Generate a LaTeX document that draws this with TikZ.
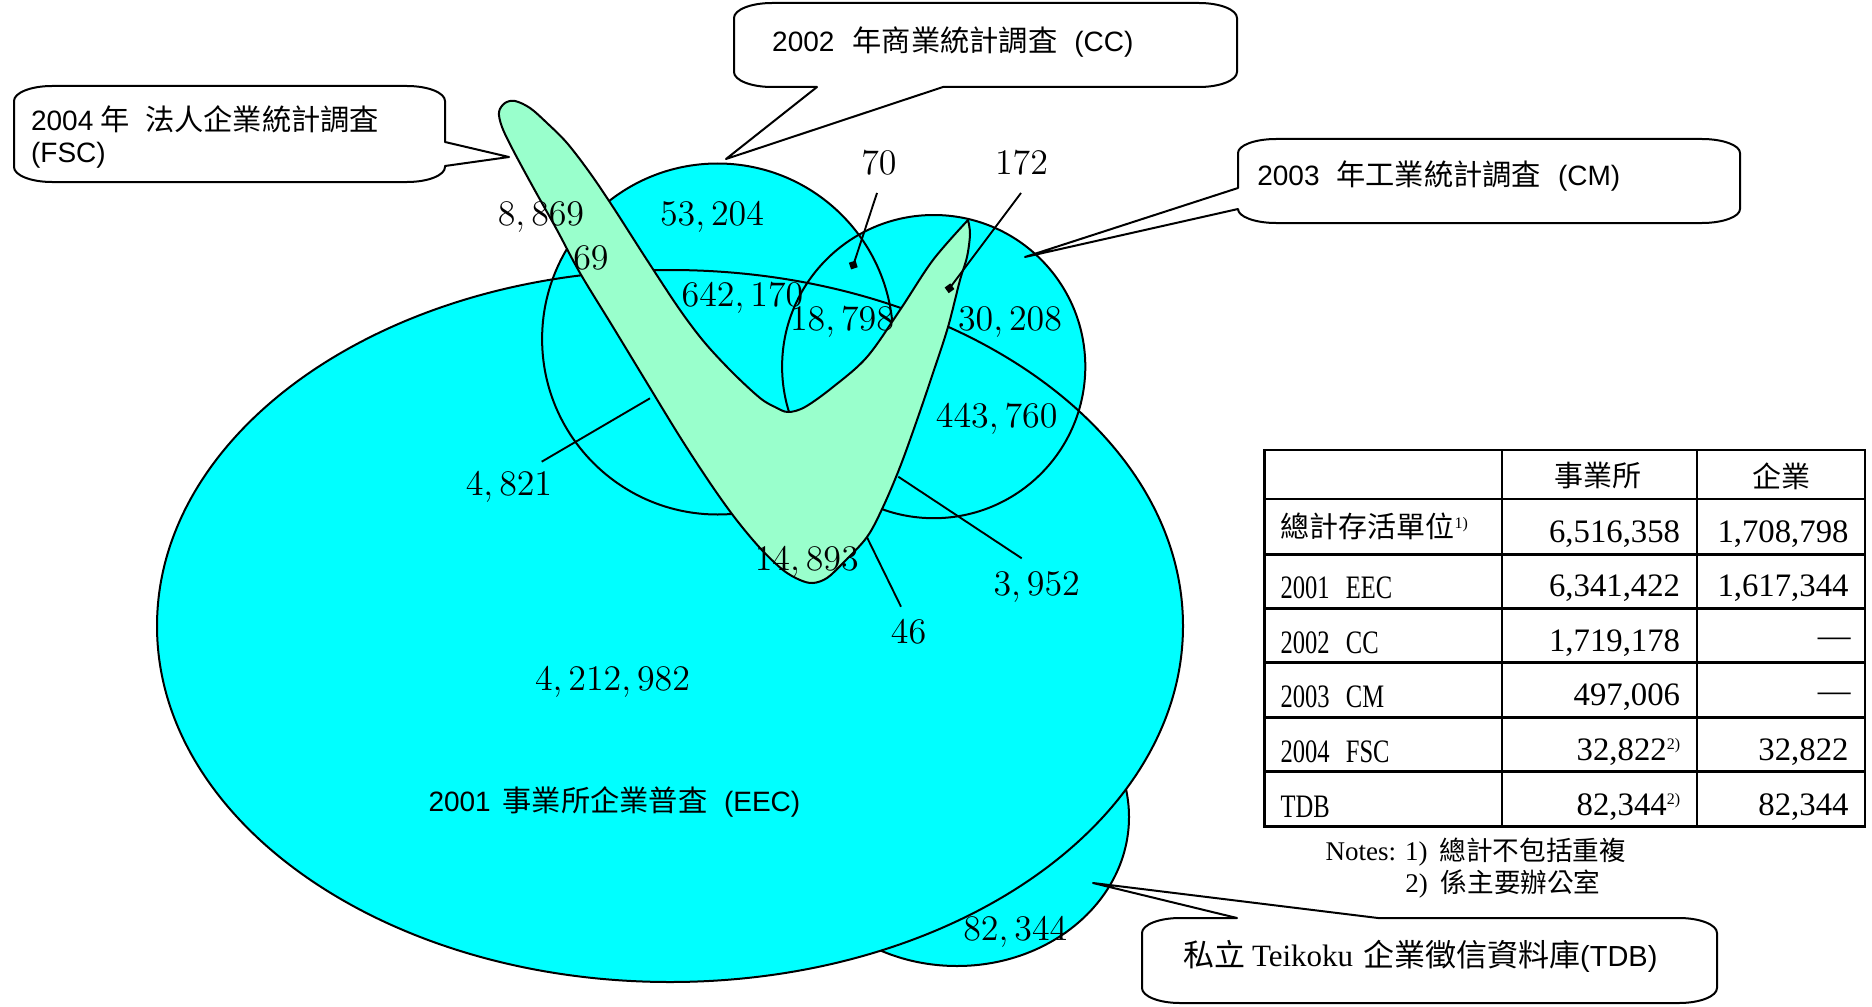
\documentclass[tikz,border=0pt]{standalone}
\usepackage{fontspec}
\newfontfamily\arial{Liberation Sans}
\newfontfamily\tnr{Liberation Serif}
\newfontfamily\tnrn[FakeStretch=0.75]{Liberation Serif}
\newfontfamily\cjk{Noto Sans CJK TC}
\newcommand\latc[1]{{\arial\fontsize{11.2}{13}\selectfont #1}}
\newcommand\hanc[1]{{\cjk\fontsize{11.7}{13}\selectfont #1}}
\newcommand\supmark[2]{\raisebox{#1}{\tnr\fontsize{6.4}{7}\selectfont #2}}
\definecolor{aqua}{RGB}{0,255,255}
\definecolor{mint}{RGB}{153,255,204}
\tikzset{
  outline/.style={draw=black, line width=0.8pt},
  num/.style={inner sep=0pt, anchor=base, font=\fontsize{13.4}{15}\selectfont},
  ctext/.style={inner sep=0pt, anchor=west},
  tnum/.style={inner sep=0pt, anchor=east, font=\tnr\fontsize{13.1}{15}\selectfont},
  tlab/.style={inner sep=0pt, anchor=west, font=\tnrn\fontsize{13.1}{15}\selectfont},
  tcjk/.style={inner sep=0pt, font=\cjk\fontsize{11.6}{14}\selectfont},
  leader/.style={draw=black, line width=0.75pt},
  dotmark/.style={fill=black, inner sep=0pt, minimum size=2.8pt, rectangle},
  callout/.style={draw=black, fill=white, line width=0.8pt, line join=round},
  grid/.style={draw=black, line width=1pt},
}
\begin{document}
\begin{tikzpicture}[x=0.4pt, y=-0.4pt]
\useasboundingbox (0,0) rectangle (1872,1006);
\fill[white] (0,0) rectangle (1872,1006);

% TDB set (behind)
\path[outline, fill=aqua] (957,817) ellipse [x radius=172, y radius=149];
% fills
\fill[aqua] (670,626) ellipse [x radius=513, y radius=356];
\fill[aqua] (717.6,339) circle [radius=175.5];
\fill[aqua] (933.7,366.6) circle [radius=151.6];
% outlines
\draw[outline] (670,626) ellipse [x radius=513, y radius=356];
\draw[outline] (717.6,339) circle [radius=175.5];
\draw[outline] (933.7,366.6) circle [radius=151.6];

% FSC boomerang
\draw[outline, fill=mint, line join=round] plot[smooth, tension=0.55] coordinates {
 (968,220) (970,234) (967,257) (960,280) (948,327) (933,373) (917,420) (900,467)
 (883,507) (867,537) (843,563) (827,578) (813,583) (800,580) (783,570) (760,548)
 (735,518) (710,483) (680,437) (647,383) (613,327) (580,273) (557,230) (533,187)
 (513,150) (502,127) (499,112) (505,103) (515,101) (530,108) (547,123) (567,143)
 (590,173) (613,207) (647,260) (680,310) (705,343) (733,373) (760,398) (775,407)
 (788,412) (805,407) (833,387) (867,357) (900,310) (933,260) (968,220)} -- cycle;

% leader lines
\coordinate (a70) at (877,193);   \coordinate (d70) at (853.3,265);
\coordinate (a172) at (1021,193); \coordinate (d172) at (949.5,288.3);
\coordinate (a4821) at (541.7,461.7); \coordinate (b4821) at (650,398.3);
\coordinate (a3952) at (1021.7,558.3); \coordinate (b3952) at (898.3,476.7);
\coordinate (a46) at (901,606.7); \coordinate (b46) at (866.7,536.7);
\draw[leader] (a70) -- (d70);
\draw[leader] (a172) -- (d172);
\draw[leader] (a4821) -- (b4821);
\draw[leader] (a3952) -- (b3952);
\draw[leader] (a46) -- (b46);
\node[dotmark, rotate=18] (m70) at (d70) {};
\node[dotmark, rotate=36] (m172) at (d172) {};

% numbers (placed by baseline)
\node[num] (n8869) at (541,225) {$8,869$};
\node[num] (n53204) at (712,225) {$53,204$};
\node[num] (n69) at (591,269) {$69$};
\node[num] (n642170) at (742.5,306.5) {$642,170$};
\node[num] (n70) at (879,175) {$70$};
\node[num] (n172) at (1021.5,175) {$172$};
\node[num] (n18798) at (842,330) {$18,798$};
\node[num] (n30208) at (1010,330) {$30,208$};
\node[num] (n443760) at (996.7,427) {$443,760$};
\node[num] (n4821) at (509,495) {$4,821$};
\node[num] (n14893) at (806.7,570) {$14,893$};
\node[num] (n3952) at (1036.7,595) {$3,952$};
\node[num] (n46) at (908.6,643) {$46$};
\node[num] (n4212982) at (612.5,690) {$4,212,982$};
\node[num] (n82344) at (1015.3,940) {$82,344$};
\node[ctext] (eecT) at (428,801.7) {\latc{2001}\hspace{4.7pt}\hanc{事業所企業普査}\hspace{6.7pt}\latc{(EEC)}};

% callouts
\draw[callout] (52,86) -- (407,86) .. controls (428,86) and (445,92.7) .. (445,101) -- (445,142) -- (509,157) -- (445,166) -- (445,167) .. controls (445,175.3) and (428,182) .. (407,182) -- (52,182) .. controls (31,182) and (14,175.3) .. (14,167) -- (14,101) .. controls (14,92.7) and (31,86) .. (52,86) -- cycle;
\draw[callout] (772,3) -- (1199,3) .. controls (1220,3) and (1237,9.7) .. (1237,18) -- (1237,72) .. controls (1237,80.3) and (1220,87) .. (1199,87) -- (943,87) -- (726,159) -- (817,87) -- (772,87) .. controls (751,87) and (734,80.3) .. (734,72) -- (734,18) .. controls (734,9.7) and (751,3) .. (772,3) -- cycle;
\draw[callout] (1276,139) -- (1702,139) .. controls (1723,139) and (1740,145.3) .. (1740,153) -- (1740,209) .. controls (1740,216.7) and (1723,223) .. (1702,223) -- (1276,223) .. controls (1255,223) and (1238,216.7) .. (1238,209) -- (1025,257) -- (1238,188) -- (1238,153) .. controls (1238,145.3) and (1255,139) .. (1276,139) -- cycle;
\draw[callout] (1180,918) -- (1237,918) -- (1093,883) -- (1378,918) -- (1679,918) .. controls (1700,918) and (1717,924.7) .. (1717,933) -- (1717,988) .. controls (1717,996.3) and (1700,1003) .. (1679,1003) -- (1180,1003) .. controls (1159,1003) and (1142,996.3) .. (1142,988) -- (1142,933) .. controls (1142,924.7) and (1159,918) .. (1180,918) -- cycle;

\node[ctext] (fscA) at (30.6,119) {\latc{2004}\hspace{3pt}\hanc{年}\hspace{6pt}\hanc{法人企業統計調査}};
\node[ctext] (fscB) at (30.6,155) {\latc{(FSC)}};
\node[ctext] (ccT) at (771.7,42) {\latc{2002}\hspace{7.2pt}\hanc{年商業統計調査}\hspace{6.8pt}\latc{(CC)}};
\node[ctext] (cmT) at (1256.8,176.5) {\latc{2003}\hspace{6.7pt}\hanc{年工業統計調査}\hspace{6.8pt}\latc{(CM)}};
\node[ctext] (tdbT) at (1182.5,956) {{\cjk\fontsize{12.4}{14}\selectfont 私立}\hspace{2.8pt}{\tnr\fontsize{12.4}{14}\selectfont Teikoku}\hspace{4pt}{\cjk\fontsize{12.4}{14}\selectfont 企業徵信資料庫}{\arial\fontsize{11.6}{14}\selectfont (TDB)}};

% table
\draw[grid] (1264.7,450) rectangle (1865,826.7);
\foreach \yy in {499,554.3,608.3,662.7,717.7,771.7} \draw[grid] (1264.7,\yy) -- (1865,\yy);
\foreach \xx in {1502,1697} \draw[grid] (\xx,450) -- (\xx,826.7);

\node[tcjk] (h1) at (1598,476) {事業所};
\node[tcjk] (h2) at (1781,476) {企業};
\node[tcjk, anchor=west] (r1) at (1280,526) {總計存活單位\supmark{3.6pt}{1)}};
\node[tlab] (r2) at (1280,588) {2001\hspace{6.5pt}EEC};
\node[tlab] (r3) at (1280,643) {2002\hspace{6.5pt}CC};
\node[tlab] (r4) at (1280,697) {2003\hspace{6.5pt}CM};
\node[tlab] (r5) at (1280,752) {2004\hspace{6.5pt}FSC};
\node[tlab] (r6) at (1280,807) {TDB};

\node[tnum] (c11) at (1680.6,534) {6,516,358};
\node[tnum] (c12) at (1849,534) {1,708,798};
\node[tnum] (c21) at (1680.6,588) {6,341,422};
\node[tnum] (c22) at (1849,588) {1,617,344};
\node[tnum] (c31) at (1680.6,643) {1,719,178};
\node[tnum] (c32) at (1851,642) {—};
\node[tnum] (c41) at (1680.6,697) {497,006};
\node[tnum] (c42) at (1851,697) {—};
\node[tnum] (c51) at (1680.6,752) {32,822\supmark{4.4pt}{2)}};
\node[tnum] (c52) at (1849,752) {32,822};
\node[tnum] (c61) at (1680.6,807) {82,344\supmark{4.4pt}{2)}};
\node[tnum] (c62) at (1849,807) {82,344};

\node[anchor=west, inner sep=0pt] (note1) at (1325,852) {{\tnr\fontsize{10.8}{12}\selectfont Notes: 1)}\hspace{4.8pt}{\cjk\fontsize{10.65}{12}\selectfont 總計不包括重複}};
\node[anchor=west, inner sep=0pt] (note2) at (1404.8,884) {{\tnr\fontsize{10.8}{12}\selectfont 2)}\hspace{5.2pt}{\cjk\fontsize{10.65}{12}\selectfont 係主要辦公室}};
\end{tikzpicture}
\end{document}
